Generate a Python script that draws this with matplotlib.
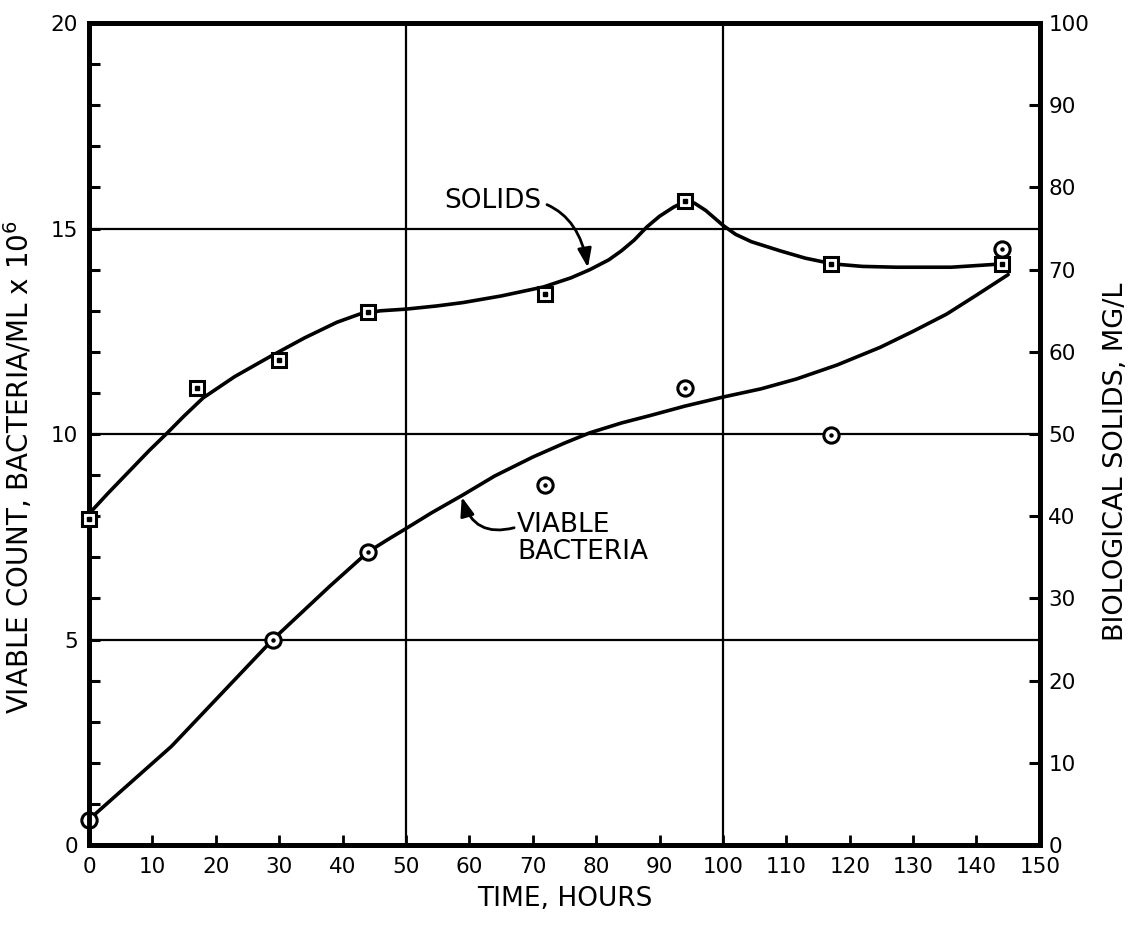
import matplotlib
matplotlib.use("Agg")
import matplotlib.pyplot as plt
from matplotlib.ticker import MultipleLocator

# Measured points
hours_bact = [0, 29, 44, 72, 94, 117, 144]
viable_count = [0.62, 5.0, 7.13, 8.77, 11.13, 9.97, 14.5]          # bacteria/mL x 10^6

hours_solids = [0, 17, 30, 44, 72, 94, 117, 144]
solids_mgl = [39.7, 55.6, 59.0, 64.9, 67.0, 78.4, 70.7, 70.7]       # mg/L

# Hand-faired curves through the data
bact_curve_x = [0, 13, 29, 38, 44, 47, 50, 54, 59, 64, 70, 75, 79, 84, 88.5, 94,
                100, 106, 111.6, 118, 124.8, 130, 135.3, 140, 145]
bact_curve_y = [0.62, 2.4, 5.0, 6.3, 7.13, 7.42, 7.70, 8.08, 8.52, 8.98, 9.44, 9.78, 10.03,
                10.27, 10.45, 10.68, 10.9, 11.1, 11.34, 11.68, 12.11, 12.5, 12.92, 13.38, 13.88]

solids_curve_x = [0.6, 3, 6.5, 9.5, 12.3, 15, 18, 23, 28.5, 34, 39.1, 42.7, 46, 50, 55, 59,
                  65, 71.7, 76, 79, 82, 84, 86, 88, 90, 92.2, 94, 95.5, 97.3, 100, 102,
                  104.5, 109, 113, 117.4, 122, 127.4, 136, 144]
solids_curve_y = [40.8, 42.8, 45.6, 48.0, 50.1, 52.2, 54.4, 57.0, 59.4, 61.7, 63.6, 64.6,
                  65.0, 65.2, 65.6, 66.0, 66.8, 67.9, 69.0, 70.0, 71.2, 72.3, 73.6, 75.2,
                  76.5, 77.6, 78.3, 78.1, 77.2, 75.4, 74.3, 73.4, 72.3, 71.4, 70.7, 70.4,
                  70.3, 70.3, 70.7]

x_ticks = list(range(0, 151, 10))
left_ticks = [0, 5, 10, 15, 20]
right_ticks = list(range(0, 101, 10))

plt.rcParams["font.family"] = "DejaVu Sans"

fig = plt.figure(figsize=(11.34, 9.25), dpi=100)
ax = fig.add_axes([0.0785, 0.0865, 0.8385, 0.8885])
ax2 = ax.twinx()

ax.set_xlim(0, 150)
ax.set_ylim(0, 20)
ax2.set_ylim(0, 100)

# grid lines
for gx in (50, 100):
    ax.axvline(gx, color="black", lw=1.6, zorder=1)
for gy in (5, 10, 15):
    ax.axhline(gy, color="black", lw=1.6, zorder=1)

# viable bacteria
ax.plot(bact_curve_x, bact_curve_y, color="black", lw=2.6, solid_joinstyle="round",
        solid_capstyle="round", zorder=3, clip_on=False)
ax.plot(hours_bact, viable_count, linestyle="none", marker="o", ms=11, mfc="white",
        mec="black", mew=2.2, zorder=4, clip_on=False)
ax.plot(hours_bact, viable_count, linestyle="none", marker="o", ms=2.2, color="black",
        zorder=5, clip_on=False)

# biological solids
ax2.plot(solids_curve_x, solids_curve_y, color="black", lw=2.6, solid_joinstyle="round",
         solid_capstyle="round", zorder=3, clip_on=False)
ax2.plot(hours_solids, solids_mgl, linestyle="none", marker="s", ms=10.5, mfc="white",
         mec="black", mew=2.2, zorder=4, clip_on=False)
ax2.plot(hours_solids, solids_mgl, linestyle="none", marker="s", ms=2.2, color="black",
         zorder=5, clip_on=False)

# ticks
ax.set_xticks(x_ticks)
ax.set_yticks(left_ticks)
ax.yaxis.set_minor_locator(MultipleLocator(1))
ax2.set_yticks(right_ticks)
ax.tick_params(axis="x", direction="in", length=7, width=2, labelsize=15.5, pad=9)
ax.tick_params(axis="y", which="both", direction="in", length=8, width=2.2, labelsize=15.5, pad=8)
ax2.tick_params(axis="y", direction="in", length=8, width=2.2, labelsize=15.5, pad=6)
for a in (ax, ax2):
    for s in a.spines.values():
        s.set_linewidth(3.5)

ax.set_xlabel("TIME, HOURS", fontsize=19, labelpad=6)
ax.set_ylabel("VIABLE COUNT, BACTERIA/ML x 10$^6$", fontsize=20)
ax.yaxis.set_label_coords(-0.057, 0.46)
ax2.set_ylabel("BIOLOGICAL SOLIDS, MG/L", fontsize=19.5)
ax2.yaxis.set_label_coords(1.066, 0.466)

# curve labels
ax.annotate("SOLIDS", xy=(78.7, 14.05), xytext=(71.4, 15.68), fontsize=19,
            ha="right", va="center",
            arrowprops=dict(arrowstyle="-|>,head_length=0.6,head_width=0.22", color="black",
                            lw=2, connectionstyle="arc3,rad=-0.5", shrinkA=2, shrinkB=0))
ax.annotate("VIABLE\nBACTERIA", xy=(58.8, 8.47), xytext=(67.5, 8.1), fontsize=19,
            ha="left", va="top", linespacing=1.05,
            arrowprops=dict(arrowstyle="-|>,head_length=0.6,head_width=0.22", color="black",
                            lw=2, connectionstyle="arc3,rad=-0.5", shrinkA=0, shrinkB=0,
                            relpos=(0, 0.72)))

fig.savefig("out.png", dpi=100, facecolor="white")
